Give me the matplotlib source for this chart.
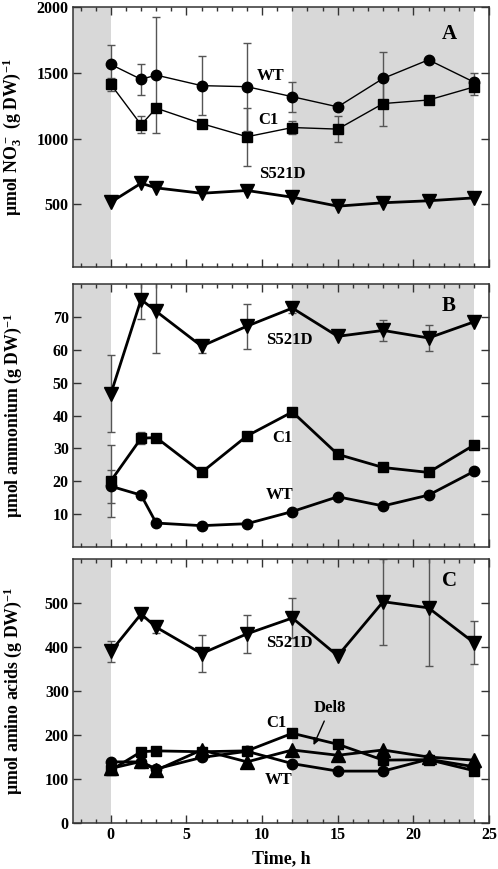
import matplotlib
matplotlib.use("Agg")
import matplotlib.pyplot as plt
from matplotlib.ticker import MultipleLocator

plt.rcParams['font.family'] = ['Liberation Serif', 'DejaVu Serif']
plt.rcParams['font.weight'] = 'bold'
plt.rcParams['mathtext.default'] = 'regular'

# ---------------- data ----------------
time_h = [0, 2, 3, 6, 9, 12, 15, 18, 21, 24]

nitrate_wt = [1563, 1450, 1482, 1402, 1394, 1318, 1241, 1457, 1598, 1429]
nitrate_wt_err = [150, 120, 440, 225, 335, 115, 0, 200, 0, 70]
nitrate_c1 = [1412, 1105, 1231, 1114, 1014, 1084, 1072, 1266, 1293, 1392]
nitrate_c1_err = [50, 65, 0, 0, 222, 50, 100, 170, 0, 60]
nitrate_s521d = [517, 661, 626, 585, 606, 555, 487, 513, 528, 550]

ammonium_wt = [18.5, 15.8, 7.3, 6.5, 7.1, 10.8, 15.3, 12.5, 15.8, 23.0]
ammonium_wt_err = [5, 0, 0, 0, 0, 0, 0, 0, 0, 0]
ammonium_c1 = [20.1, 33.1, 33.3, 22.7, 33.8, 41.1, 28.2, 24.2, 22.7, 31.0]
ammonium_c1_err = [11, 1.8, 0, 0, 0, 0, 0, 0, 0, 0]
ammonium_s521d = [46.6, 75.3, 71.7, 61.1, 67.2, 72.7, 64.1, 65.9, 63.6, 68.5]
ammonium_s521d_err = [11.7, 6, 12.8, 2, 6.8, 1.5, 0, 3.2, 4.1, 0]

amino_wt = [139, 139, 123, 149, 163, 135, 118, 118, 145, 128]
amino_wt_err = [0, 15, 0, 0, 0, 0, 0, 0, 0, 0]
amino_c1 = [120, 162, 164, 162, 164, 204, 179, 143, 144, 119]
amino_del8 = [124, 140, 120, 166, 139, 166, 154, 166, 150, 143]
amino_s521d = [390, 475, 445, 385, 430, 466, 380, 503, 489, 410]
amino_s521d_err = [24, 10, 12, 42, 43, 45, 0, 98, 133, 49]

dark_periods = [(-2.5, 0), (12, 24)]

# ---------------- figure ----------------
fig = plt.figure(figsize=(4.98, 8.69), dpi=100)
L, W = 0.1466, 0.8354
axA = fig.add_axes([L, 0.6927, W, 0.2994])
axB = fig.add_axes([L, 0.3705, W, 0.3026])
axC = fig.add_axes([L, 0.0529, W, 0.3038])

GRAY = '#d8d8d8'
ECOL = '#555555'
LBL = 12
YLBL = 12.8


def style(ax, show_x):
    ax.set_xlim(-2.5, 25)
    for a, b in dark_periods:
        ax.axvspan(a, b, color=GRAY, lw=0, zorder=0)
    ax.xaxis.set_major_locator(MultipleLocator(5))
    ax.xaxis.set_minor_locator(MultipleLocator(1))
    ax.tick_params(which='both', direction='in', top=True, right=True,
                   labelsize=11.5, width=1, color='#333333', pad=3)
    ax.tick_params(which='major', length=6)
    ax.tick_params(which='minor', length=3)
    for lbl in ax.get_xticklabels() + ax.get_yticklabels():
        lbl.set_fontweight('bold')
    if not show_x:
        ax.tick_params(labelbottom=False)
    for s in ax.spines.values():
        s.set_linewidth(1.1)
        s.set_color('#333333')


def series(ax, y, marker, ms, lw, err=None):
    ax.plot(time_h, y, color='black', lw=lw, marker=marker, ms=ms, zorder=3)
    if err is not None:
        xs = [t for t, e in zip(time_h, err) if e > 0]
        ys = [v for v, e in zip(y, err) if e > 0]
        es = [e for e in err if e > 0]
        ax.errorbar(xs, ys, yerr=es, fmt='none', ecolor=ECOL, elinewidth=1,
                    capsize=3, capthick=1, zorder=2)


def label(ax, x, y, s, size=LBL):
    ax.text(x, y, s, fontsize=size, fontweight='bold', ha='center', va='center', zorder=5)


# Panel A
style(axA, False)
series(axA, nitrate_wt, 'o', 7.5, 1, nitrate_wt_err)
series(axA, nitrate_c1, 's', 7, 1, nitrate_c1_err)
series(axA, nitrate_s521d, 'v', 10, 2)
axA.set_ylim(25, 2000)
axA.set_yticks([500, 1000, 1500, 2000])
axA.set_ylabel(r'µmol NO$_3^-$ (g DW)$^{-1}$', fontsize=YLBL, fontweight='bold')
label(axA, 10.55, 1475, 'WT')
label(axA, 10.4, 1142, 'C1')
label(axA, 11.35, 734, 'S521D')
label(axA, 22.35, 1792, 'A', 15)

# Panel B
style(axB, False)
series(axB, ammonium_wt, 'o', 7.5, 2, ammonium_wt_err)
series(axB, ammonium_c1, 's', 7.5, 2, ammonium_c1_err)
series(axB, ammonium_s521d, 'v', 10.5, 2, ammonium_s521d_err)
axB.set_ylim(0, 80)
axB.set_yticks([10, 20, 30, 40, 50, 60, 70])
axB.set_ylabel(r'µmol ammonium (g DW)$^{-1}$', fontsize=YLBL, fontweight='bold')
label(axB, 11.8, 62.9, 'S521D')
label(axB, 11.35, 33.2, 'C1')
label(axB, 11.15, 15.9, 'WT')
label(axB, 22.36, 73.3, 'B', 15)

# Panel C
style(axC, True)
series(axC, amino_wt, 'o', 7.5, 2, amino_wt_err)
series(axC, amino_c1, 's', 7.5, 2)
series(axC, amino_del8, '^', 9.5, 2)
series(axC, amino_s521d, 'v', 10.5, 2, amino_s521d_err)
axC.set_ylim(0, 600)
axC.set_yticks([0, 100, 200, 300, 400, 500])
axC.set_ylabel(r'µmol amino acids (g DW)$^{-1}$', fontsize=YLBL, fontweight='bold')
axC.set_xlabel('Time, h', fontsize=13, fontweight='bold', labelpad=5)
label(axC, 11.8, 410, 'S521D')
label(axC, 10.95, 227, 'C1')
label(axC, 11.1, 98, 'WT')
axC.annotate('Del8', xy=(13.4, 177), xytext=(14.5, 262), fontsize=LBL, fontweight='bold',
             ha='center', va='center',
             arrowprops=dict(arrowstyle='-|>', color='black', lw=1, shrinkA=2, shrinkB=0,
                             mutation_scale=10))
label(axC, 22.4, 549, 'C', 15)

for ax in (axA, axB, axC):
    ax.yaxis.set_label_coords(-0.118, 0.5)

fig.savefig('out.png', dpi=100)
